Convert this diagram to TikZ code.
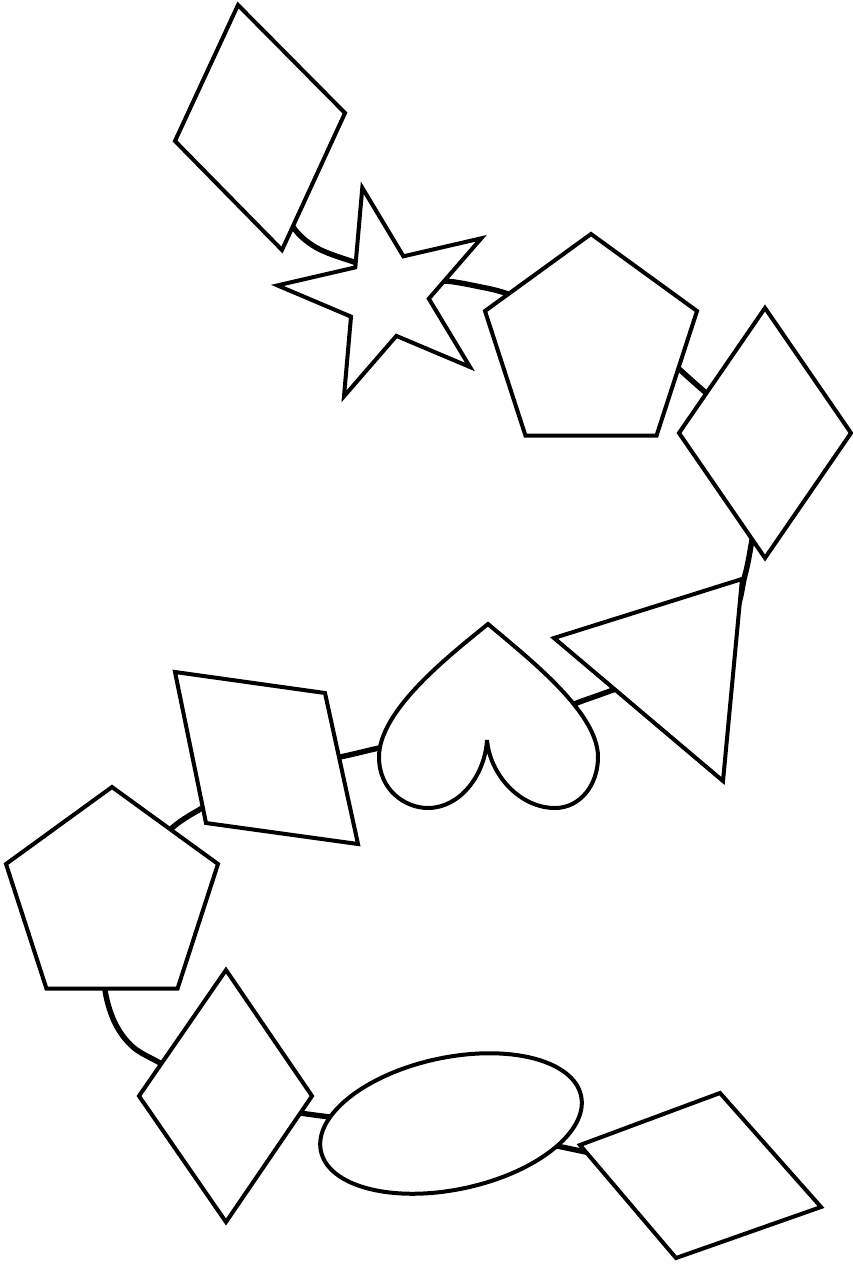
\documentclass[tikz,border=0pt]{standalone}
\begin{document}
\begin{tikzpicture}[x=1pt,y=-1pt,
  shapeline/.style={draw=black, fill=white, line width=4pt, line join=miter},
  link/.style={draw=black, line width=5.4pt, line cap=round, line join=round}]
\fill[white] (0,0) rectangle (853,1264);
\useasboundingbox (0,0) rectangle (853,1264);
% centres
\coordinate (d1) at (260,127.5);
\coordinate (star) at (387,295);
\coordinate (p1) at (591,345.5);
\coordinate (d2) at (765,433);
\coordinate (tri) at (673,666);
\coordinate (heart) at (488,716);
\coordinate (r1) at (266,758);
\coordinate (p2) at (112,898.5);
\coordinate (d3) at (226,1096);
\coordinate (ell) at (451,1123.5);
\coordinate (d4) at (699,1176);
% connectors
\draw[link] plot[smooth, tension=0.6] coordinates {(d1) (283,200) (293,227) (317,248) (357,263) (375,268) (star)};
\draw[link] plot[smooth, tension=0.6] coordinates {(star) (420,284) (444,281) (476,286) (508,294) (540,310) (p1)};
\draw[link] plot[smooth, tension=0.6] coordinates {(p1) (655,347) (678,368) (705,392) (730,412) (d2)};
\draw[link] plot[smooth, tension=0.6] coordinates {(d2) (755,525) (752,540) (745,575) (730,620) (tri)};
\draw[link] plot[smooth, tension=0.6] coordinates {(tri) (640,680) (613,690) (582,701) (550,712) (heart)};
\draw[link] plot[smooth, tension=0.6] coordinates {(heart) (400,744) (379,748) (340,757) (310,762) (r1)};
\draw[link] plot[smooth, tension=0.6] coordinates {(r1) (220,795) (202,808) (187,817) (172,828) (150,850) (p2)};
\draw[link] plot[smooth, tension=0.6] coordinates {(p2) (106,960) (105,990) (115,1023) (133,1047) (160,1063) (185,1078) (d3)};
\draw[link] plot[smooth, tension=0.6] coordinates {(d3) (280,1110) (300,1113) (330,1117) (360,1120) (ell)};
\draw[link] (ell) -- (d4);
% shapes
\draw[shapeline] (238,5) -- (345,113) -- (282,250) -- (175,141) -- cycle;
\draw[shapeline] (362.3,187.8) -- (403.4,256.3) -- (481.3,238.3) -- (428.8,298.7) -- (470,367) -- (396.4,335.9) -- (344,396.3) -- (351,316.6) -- (277.4,285.4) -- (355.3,267.4) -- cycle;
\draw[shapeline] (591,234) -- (697,311) -- (656.5,435.7) -- (525.5,435.7) -- (485,311) -- cycle;
\draw[shapeline] (765,308) -- (851,433) -- (765,558) -- (679,433) -- cycle;
\draw[shapeline] (742,579) -- (723,781) -- (554,638) -- cycle;
\draw[shapeline] (488,624) .. controls (450,655) and (379,710) .. (379,757)
  .. controls (379,790) and (405,808) .. (428,808)
  .. controls (460,808) and (485,775) .. (487,740)
  .. controls (490,775) and (520,808) .. (555,808)
  .. controls (580,808) and (598,785) .. (598,757)
  .. controls (598,712) and (528,658) .. (488,624) -- cycle;
\draw[shapeline] (175,672) -- (325,693) -- (358,844) -- (206,823) -- cycle;
\draw[shapeline] (112,787) -- (218,864) -- (177.5,988.7) -- (46.5,988.7) -- (6,864) -- cycle;
\draw[shapeline] (226,970) -- (312,1096) -- (226,1222) -- (139,1096) -- cycle;
\draw[shapeline, rotate around={12:(ell)}] (ell) ellipse [x radius=133, y radius=66];
\draw[shapeline] (580,1145) -- (720,1093) -- (821,1207) -- (676,1258) -- cycle;
\end{tikzpicture}
\end{document}
